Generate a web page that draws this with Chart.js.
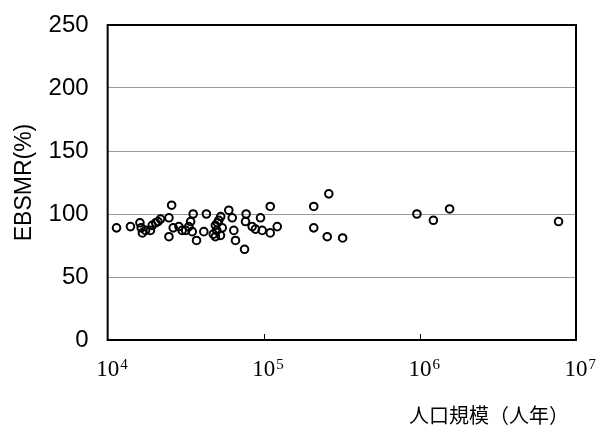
<!DOCTYPE html>
<html>
<head>
<meta charset="utf-8">
<script src="https://cdn.jsdelivr.net/npm/chart.js@4/dist/chart.umd.min.js"></script>
<style>
  html, body { margin: 0; padding: 0; background: #fff; }
  #wrap { position: relative; width: 599px; height: 431px; }
  #xtitle {
    position: absolute; left: 409px; top: 400px;
    font-family: "Noto Sans CJK JP", sans-serif; font-size: 20px; color: #000;
    white-space: nowrap;
  }
</style>
</head>
<body>
<div id="wrap">
  <canvas id="chart" width="599" height="431"></canvas>
  <div id="xtitle">人口規模（人年）</div>
</div>
<script>
// population size (person-years) and EBSMR (%) for each area
const population = [
  11400, 14000, 16100, 16400, 16700, 17500, 18800, 19300, 20300, 21000,
  21800, 25700, 24700, 24700, 26300, 28600, 30000, 31600, 33100, 34000,
  35300, 34800, 37100, 42900, 41300, 51500, 49000, 50000, 49000, 52800,
  54200, 53000, 50500, 47500, 59700, 62800, 64300, 65900, 75300, 77100,
  76400, 84300, 88500, 95300, 97700, 110000, 110000, 122000, 209000, 261000,
  209000, 255000, 320000, 957000, 1220000, 1550000, 7730000
];
const ebsmr = [
  89, 90, 93, 89, 85, 87, 87, 91, 93, 94,
  96, 107, 97, 82, 89, 90, 87, 87, 90, 94,
  100, 86, 79, 100, 86, 95, 91, 87, 82, 83,
  89, 98, 93, 84, 103, 97, 87, 79, 72, 100,
  94, 90, 88, 97, 87, 106, 85, 90, 106, 116,
  89, 82, 81, 100, 95, 104, 94
];
const yTicks = [0, 50, 100, 150, 200, 250];
const xTickValues = [1e4, 1e5, 1e6, 1e7];
const xTickExponents = ['4', '5', '6', '7'];

const points = population.map((p, i) => ({ x: p, y: ebsmr[i] }));

// black frame, inward x ticks and the 10^n labels
const framePlugin = {
  id: 'frame',
  afterDraw(chart) {
    const { ctx, chartArea: a, scales } = chart;
    ctx.save();
    ctx.strokeStyle = '#000';
    ctx.lineWidth = 1;
    xTickValues.slice(1, -1).forEach(v => {
      const x = Math.round(scales.x.getPixelForValue(v)) + 0.5;
      ctx.beginPath();
      ctx.moveTo(x, a.bottom);
      ctx.lineTo(x, a.bottom - 6);
      ctx.stroke();
    });
    ctx.lineWidth = 2;
    ctx.strokeRect(a.left, a.top, a.right - a.left, a.bottom - a.top);

    ctx.fillStyle = '#000';
    ctx.textBaseline = 'alphabetic';
    xTickValues.forEach((v, i) => {
      const x = scales.x.getPixelForValue(v);
      ctx.font = '23px "Liberation Serif", serif';
      const w = ctx.measureText('10').width;
      ctx.textAlign = 'left';
      ctx.fillText('10', x - w / 2, a.bottom + 36);
      ctx.font = '15px "Liberation Serif", serif';
      ctx.fillText(xTickExponents[i], x + w / 2 + 1, a.bottom + 29);
    });
    ctx.restore();
  }
};

new Chart(document.getElementById('chart'), {
  type: 'scatter',
  data: {
    datasets: [{
      data: points,
      pointStyle: 'circle',
      pointRadius: 3.8,
      pointBorderWidth: 2,
      pointBorderColor: '#000',
      pointBackgroundColor: 'rgba(255,255,255,0)'
    }]
  },
  options: {
    responsive: false,
    animation: false,
    layout: { padding: { left: 6, right: 23, top: 5, bottom: 91 } },
    plugins: { legend: { display: false }, tooltip: { enabled: false } },
    scales: {
      x: {
        type: 'logarithmic',
        min: 1e4,
        max: 1e7,
        afterBuildTicks: axis => { axis.ticks = xTickValues.map(v => ({ value: v })); },
        grid: { display: false, drawTicks: false },
        border: { display: false },
        ticks: { display: false }
      },
      y: {
        min: 0,
        max: 250,
        afterBuildTicks: axis => { axis.ticks = yTicks.map(v => ({ value: v })); },
        grid: {
          drawTicks: false,
          color: c => (c.tick && (c.tick.value === 0 || c.tick.value === 250)) ? 'rgba(0,0,0,0)' : '#9a9a9a',
          lineWidth: 1
        },
        border: { display: false },
        ticks: {
          padding: 19,
          color: '#000',
          font: { family: '"Liberation Sans", Arial, sans-serif', size: 24, lineHeight: 0.5 }
        },
        title: {
          display: true,
          text: 'EBSMR(%)',
          color: '#000',
          padding: { top: 5, bottom: -9 },
          font: { family: '"Liberation Sans", Arial, sans-serif', size: 23 }
        }
      }
    }
  },
  plugins: [framePlugin]
});
</script>
</body>
</html>
